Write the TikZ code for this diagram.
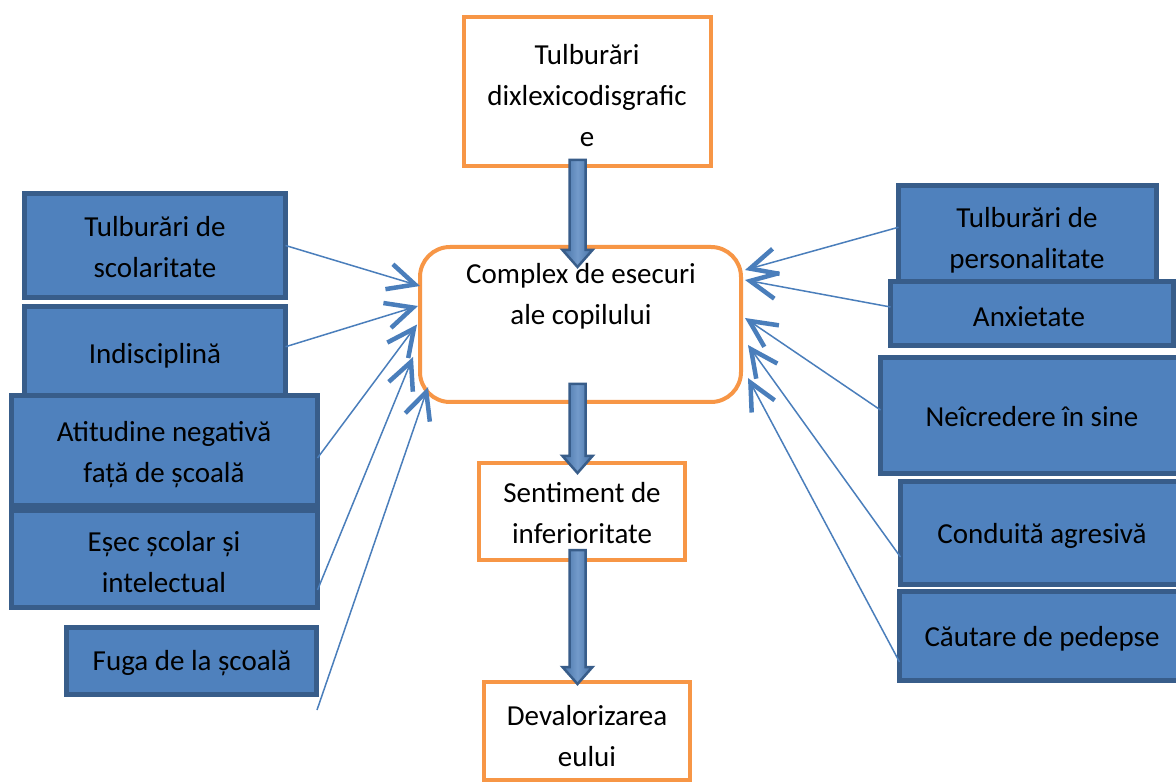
\documentclass[tikz,border=0pt]{standalone}
\usepackage{fontspec}
\setmainfont{Carlito}
\usetikzlibrary{arrows.meta,calc}
\definecolor{ob}{HTML}{F79646}
\definecolor{bfill}{HTML}{4F81BD}
\definecolor{bdraw}{HTML}{385D8A}
\definecolor{cline}{HTML}{4A7EBB}
\newcommand\blockarrow[2]{%
  \draw[barrow] ($#1+(-8,0)$) -- ($#1+(8,0)$) -- ($#2+(8,-17)$) -- ($#2+(15,-17)$) -- #2
    -- ($#2+(-15,-17)$) -- ($#2+(-8,-17)$) -- cycle;}
\begin{document}
\begin{tikzpicture}[x=1pt,y=-1pt,
  bbox/.style={draw=bdraw,fill=bfill,line width=5pt,inner sep=0pt,outer sep=0pt,anchor=north west},
  obox/.style={draw=ob,fill=white,line width=4pt,inner sep=0pt,outer sep=0pt,anchor=north west},
  txt/.style={font=\fontsize{29}{41}\selectfont,align=center,inner sep=0pt,text=black},
  conn/.style={draw=cline,line width=1.5pt,-{Straight Barb[length=27pt,width=26pt,line width=4.5pt 0 1]}},
  barrow/.style={draw=bdraw,left color=bfill!88!black,right color=bfill!88!black,middle color=bfill!80!white,line width=2.5pt,line join=miter}]
\useasboundingbox (0,0) rectangle (1176,783);
\fill[white] (0,0) rectangle (1176,783);

% orange boxes
\node[obox,minimum width=247pt,minimum height=148.5pt] (T) at (463.5,17.5) {};
\node[obox,minimum width=321pt,minimum height=155pt,rounded corners=30pt] (C) at (420,247) {};
\node[obox,minimum width=206pt,minimum height=97pt] (S) at (479,463) {};
\node[obox,minimum width=206pt,minimum height=98pt] (D) at (484,682) {};

\node[txt] (tT) at (587,97) {\strut Tulburări\\\strut dixlexicodisgrafic\\\strut e};
\node[txt] (tC) at (581,295.6) {\strut Complex de esecuri\\\strut ale copilului};
\node[txt] (tS) at (582,515.3) {\strut Sentiment de\\\strut inferioritate};
\node[txt] (tD) at (587,737.8) {\strut Devalorizarea\\\strut eului};

% connector end points
\coordinate (l5s) at (317,710);

% left blue boxes
\node[bbox,minimum width=261pt,minimum height=104pt] (L1) at (24.5,193.5) {};
\node[bbox,minimum width=261pt,minimum height=100.5pt] (L2) at (24.5,306.5) {};
\node[bbox,minimum width=306pt,minimum height=110pt] (L3) at (11.5,395.5) {};
\node[bbox,minimum width=306pt,minimum height=97pt] (L4) at (11.5,510.5) {};
\node[bbox,minimum width=250pt,minimum height=67pt] (L5) at (66.5,627.5) {};

% right blue boxes
\node[bbox,minimum width=258pt,minimum height=97.5pt] (R1) at (898.5,185.5) {};
\node[bbox,minimum width=283pt,minimum height=64pt] (R2) at (890.5,281.5) {};
\node[bbox,minimum width=305pt,minimum height=116pt] (R3) at (880.5,357.5) {};
\node[bbox,minimum width=285pt,minimum height=103pt] (R4) at (900.5,481.5) {};
\node[bbox,minimum width=286pt,minimum height=89pt] (R5) at (899.5,591.5) {};

% texts of blue boxes
\node[txt] (tL1) at (155,248.8) {\strut Tulburări de\\\strut scolaritate};
\node[txt] (tL2) at (155,355.3) {\strut Indisciplină};
\node[txt] (tL3) at (164,453.8) {\strut Atitudine negativă\\\strut față de școală};
\node[txt] (tL4) at (164,563.3) {\strut Eșec școlar și\\\strut intelectual};
\node[txt] (tL5) at (192,662.3) {\strut Fuga de la școală};
\node[txt] (tR1) at (1027,239.8) {\strut Tulburări de\\\strut personalitate};
\node[txt] (tR2) at (1029,318.3) {\strut Anxietate};
\node[txt] (tR3) at (1032,418.3) {\strut Neîcredere în sine};
\node[txt] (tR4) at (1042,535.3) {\strut Conduită agresivă};
\node[txt] (tR5) at (1042,638.3) {\strut Căutare de pedepse};

% thin connectors
\draw[conn] (L1.east) -- ([yshift=38.5pt]C.west);
\draw[conn] ([yshift=10pt]L2.east) -- ([xshift=-2pt,yshift=18.5pt]C.west);
\draw[conn] ([yshift=-7.5pt]L3.east) -- ([xshift=-3pt]C.west);
\draw[conn] ([yshift=-31pt]L4.east) -- ([xshift=-7pt,yshift=-32.5pt]C.west);
\draw[conn] (l5s) -- ([xshift=8pt,yshift=-62.5pt]C.west);
\draw[conn] ([yshift=7pt]R1.west) -- ([xshift=4pt,yshift=54.5pt]C.east);
\draw[conn] ([yshift=6.5pt]R2.west) -- ([xshift=4pt,yshift=44.5pt]C.east);
\draw[conn] ([yshift=5.5pt]R3.west) -- ([xshift=4pt,yshift=6.5pt]C.east);
\draw[conn] ([yshift=-24pt]R4.west) -- ([xshift=7pt,yshift=-20.5pt]C.east);
\draw[conn] ([yshift=-26pt]R5.west) -- ([xshift=7pt,yshift=-53.5pt]C.east);

% block arrows
\coordinate (a1s) at (577.5,160);
\coordinate (a1e) at (577.5,267);
\coordinate (a2s) at (577.5,384);
\coordinate (a2e) at (577.5,473);
\coordinate (a3s) at (577.5,550);
\coordinate (a3e) at (577.5,684);
\blockarrow{(a1s)}{(a1e)}
\blockarrow{(a2s)}{(a2e)}
\blockarrow{(a3s)}{(a3e)}
\end{tikzpicture}
\end{document}
